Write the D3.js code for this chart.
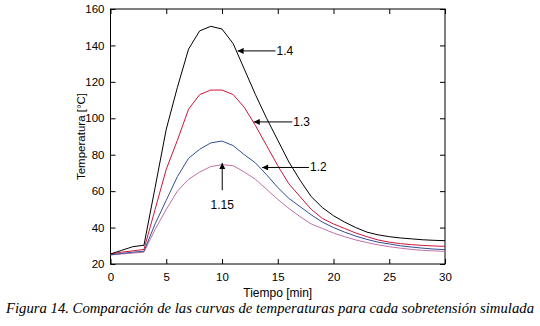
<!DOCTYPE html>
<html>
<head>
<meta charset="utf-8">
<script src="https://cdn.jsdelivr.net/npm/d3@7"></script>
<style>
  body { margin: 0; background: #fff; }
  svg { display: block; }
  .tick text { font-family: Arial, "Liberation Sans", sans-serif; font-size: 11.5px; fill: #000; }
</style>
</head>
<body>
<div id="chart"></div>
<script>
// time in minutes
var minutes = d3.range(0, 31);

// temperature series per overvoltage
var t140 = [25.5, 27.5, 29.5, 30.3, 62, 94, 117, 138, 148, 150.5, 149, 141, 127, 113, 100, 88, 76, 66, 57, 51, 46.5, 43, 40, 37.5, 36, 35, 34.3, 33.8, 33.3, 33, 32.8];
var t130 = [25.5, 26.5, 27.2, 28, 50, 72, 88, 105, 113, 115.5, 115.5, 113, 106, 96, 85, 74, 64, 57, 50, 45, 42, 39.5, 37, 35, 33.2, 32, 31.2, 30.6, 30.2, 29.9, 29.7];
var t120 = [25, 25.8, 26.5, 27, 42, 55, 68, 78, 83, 86.5, 87.5, 85, 80, 75.5, 69, 62, 56, 51.5, 47, 43, 40, 37.5, 35.3, 33.5, 32, 31, 30, 29.3, 28.7, 28.2, 27.9];
var t115 = [25, 25.5, 26, 26.5, 39, 50, 60, 66.5, 70.5, 73.5, 74.5, 74, 70.5, 66.5, 61, 55.5, 50.5, 46, 42, 39.5, 37, 35, 33.2, 31.8, 30.5, 29.5, 28.7, 28, 27.5, 27.2, 26.9];

var seriesNames = ["1.15", "1.2", "1.3", "1.4"];
var seriesValues = [t115, t120, t130, t140];
var seriesColors = ["#c070a8", "#2f4f94", "#d0143a", "#000000"];

var xTicks = [0, 5, 10, 15, 20, 25, 30];
var yTicks = [20, 40, 60, 80, 100, 120, 140, 160];

// arrow annotations: label, tip [min, °C], tail [min, °C]
var notes = [
  {label: "1.4", tip: [11.4, 137], tail: [14.8, 137]},
  {label: "1.3", tip: [12.85, 98], tail: [16.3, 98]},
  {label: "1.2", tip: [13.6, 73], tail: [17.8, 73]},
  {label: "1.15", tip: [10.02, 75.5], tail: [10.02, 60.5]}
];

var margin = {top: 9, right: 95, bottom: 62, left: 110.5},
    width = 540 - margin.left - margin.right,
    height = 326 - margin.top - margin.bottom;

var svg = d3.select("#chart")
  .append("svg")
    .attr("width", 540)
    .attr("height", 326);

var g = svg.append("g")
    .attr("transform", "translate(" + margin.left + "," + margin.top + ")");

var x = d3.scaleLinear().domain([0, 30]).range([0, width]);
var y = d3.scaleLinear().domain([20, 160]).range([height, 0]);

// axes, ticks point inward like matlab
g.append("g")
  .attr("transform", "translate(0," + height + ")")
  .call(d3.axisBottom(x).tickValues(xTicks).tickSizeInner(-5).tickSizeOuter(0).tickPadding(9));
g.append("g")
  .call(d3.axisLeft(y).tickValues(yTicks).tickSizeInner(-5).tickSizeOuter(0).tickPadding(6));
g.append("g")
  .call(d3.axisTop(x).tickValues(xTicks).tickSizeInner(-5).tickSizeOuter(0).tickFormat(""));
g.append("g")
  .attr("transform", "translate(" + width + ",0)")
  .call(d3.axisRight(y).tickValues(yTicks).tickSizeInner(-5).tickSizeOuter(0).tickFormat(""));

g.selectAll(".domain").remove();
g.selectAll(".tick line").attr("stroke", "#000");

g.append("rect")
  .attr("width", width)
  .attr("height", height)
  .attr("fill", "none")
  .attr("stroke", "#000")
  .attr("stroke-width", 1);

var line = d3.line()
  .x(function(d, i) { return x(minutes[i]); })
  .y(function(d) { return y(d); });

g.selectAll(".curve")
  .data(seriesValues)
  .enter()
  .append("path")
    .attr("class", "curve")
    .attr("d", line)
    .attr("fill", "none")
    .attr("stroke", function(d, i) { return seriesColors[i]; })
    .attr("stroke-width", 1);

// arrows
svg.append("defs").append("marker")
  .attr("id", "head")
  .attr("viewBox", "0 0 10 10")
  .attr("refX", 10).attr("refY", 5)
  .attr("markerWidth", 7).attr("markerHeight", 6)
  .attr("markerUnits", "userSpaceOnUse")
  .attr("orient", "auto")
  .append("path")
    .attr("d", "M0,0L10,5L0,10Z")
    .attr("fill", "#000");

notes.forEach(function(n) {
  g.append("line")
    .attr("x1", x(n.tail[0])).attr("y1", y(n.tail[1]))
    .attr("x2", x(n.tip[0])).attr("y2", y(n.tip[1]))
    .attr("stroke", "#000")
    .attr("stroke-width", 1)
    .attr("marker-end", "url(#head)");
  var vertical = n.tip[0] === n.tail[0];
  g.append("text")
    .attr("x", vertical ? x(n.tail[0]) : x(n.tail[0]) + 1)
    .attr("y", vertical ? y(n.tail[1]) + 15 : y(n.tail[1]))
    .attr("text-anchor", vertical ? "middle" : "start")
    .attr("dominant-baseline", "central")
    .style("font-family", "Arial, 'Liberation Sans', sans-serif")
    .style("font-size", "12px")
    .text(n.label);
});

// axis titles
svg.append("text")
  .attr("x", margin.left + width / 2)
  .attr("y", 297)
  .attr("text-anchor", "middle")
  .style("font-family", "Arial, 'Liberation Sans', sans-serif")
  .style("font-size", "12px")
  .text("Tiempo [min]");

svg.append("text")
  .attr("transform", "translate(85," + (margin.top + height / 2) + ") rotate(-90)")
  .attr("text-anchor", "middle")
  .style("font-family", "Arial, 'Liberation Sans', sans-serif")
  .style("font-size", "11.5px")
  .text("Temperatura [°C]");

// caption
svg.append("text")
  .attr("x", 6)
  .attr("y", 313)
  .attr("textLength", 528)
  .attr("lengthAdjust", "spacingAndGlyphs")
  .style("font-family", "'Liberation Serif', serif")
  .style("font-style", "italic")
  .style("font-size", "14.5px")
  .text("Figura 14. Comparación de las curvas de temperaturas para cada sobretensión simulada");
</script>
</body>
</html>
